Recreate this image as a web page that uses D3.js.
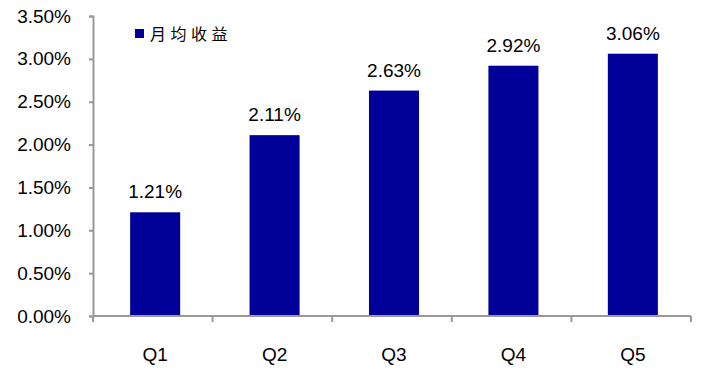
<!DOCTYPE html>
<html>
<head>
<meta charset="utf-8">
<script src="https://cdn.jsdelivr.net/npm/d3@7"></script>
<style>
	body { margin: 0; background: #fff; }
	text { font-family: "Liberation Sans", Arial, sans-serif; fill: #000; }
</style>
</head>
<body>
<div class="chart"></div>
<script>
const categories = ['Q1', 'Q2', 'Q3', 'Q4', 'Q5']
const monthlyReturn = [1.21, 2.11, 2.63, 2.92, 3.06]
const yTicks = [0, 0.5, 1, 1.5, 2, 2.5, 3, 3.5]
const seriesName = '月均收益'

const width = 708
const height = 375
const margin = { top: 16, right: 17, bottom: 59, left: 93 }
const barColor = '#000099'
const axisColor = '#999999'
const fontSize = '19px'

const createChart = () => {
	const svg = d3.select('.chart')
		.append('svg')
		.attr('width', width)
		.attr('height', height)

	// bars sit a touch right of the category centres in the original
	const x = d3.scaleBand()
		.domain(categories)
		.range([margin.left + 2.5, width - margin.right + 1.5])
		.paddingInner(0.581)
		.paddingOuter(0.29)

	const y = d3.scaleLinear()
		.domain([0, 3.5])
		.range([height - margin.bottom, margin.top])

	// bars
	svg.append('g')
		.selectAll('rect')
		.data(monthlyReturn)
		.join('rect')
		.attr('x', (d, i) => x(categories[i]))
		.attr('y', d => y(d))
		.attr('width', x.bandwidth())
		.attr('height', d => y(0) - y(d))
		.attr('fill', barColor)

	// value labels
	svg.append('g')
		.selectAll('text')
		.data(monthlyReturn)
		.join('text')
		.attr('x', (d, i) => x(categories[i]) + x.bandwidth() / 2)
		.attr('y', d => y(d) - 14)
		.attr('text-anchor', 'middle')
		.style('font-size', fontSize)
		.text(d => d.toFixed(2) + '%')

	// y axis
	const yAxis = d3.axisLeft(y)
		.tickValues(yTicks)
		.tickSize(4)
		.tickPadding(18)
		.tickFormat(d => d.toFixed(2) + '%')
	const gy = svg.append('g')
		.attr('transform', `translate(${margin.left},0)`)
		.call(yAxis)
	gy.select('.domain').attr('stroke', axisColor).attr('stroke-width', 2)
	gy.selectAll('.tick line').attr('stroke', axisColor).attr('stroke-width', 2)
	gy.selectAll('.tick text')
		.attr('fill', '#000')
		.style('font-size', fontSize)
		.style('font-family', '"Liberation Sans", Arial, sans-serif')

	// x axis: ticks on category boundaries
	const plotW = width - margin.right - margin.left
	const bounds = d3.range(categories.length + 1).map(i => margin.left + i * plotW / categories.length)
	const gx = svg.append('g')
	gx.append('line')
		.attr('x1', margin.left).attr('x2', width - margin.right)
		.attr('y1', y(0)).attr('y2', y(0))
		.attr('stroke', axisColor).attr('stroke-width', 2)
	gx.selectAll('.xt')
		.data(bounds)
		.join('line')
		.attr('class', 'xt')
		.attr('x1', d => d).attr('x2', d => d)
		.attr('y1', y(0)).attr('y2', y(0) + 6)
		.attr('stroke', axisColor).attr('stroke-width', 2)
	gx.selectAll('text')
		.data(categories)
		.join('text')
		.attr('x', d => x(d) + x.bandwidth() / 2)
		.attr('y', y(0) + 45)
		.attr('text-anchor', 'middle')
		.style('font-size', fontSize)
		.text(d => d)

	// legend
	const lg = svg.append('g')
	lg.append('rect')
		.attr('x', 135).attr('y', 29)
		.attr('width', 9).attr('height', 9)
		.attr('fill', barColor)
	lg.append('text')
		.attr('x', 150).attr('y', 40)
		.style('font-family', '"Noto Sans CJK SC", sans-serif')
		.style('font-size', '16px')
		.style('letter-spacing', '4.5px')
		.text(seriesName)
}

createChart()
</script>
</body>
</html>
